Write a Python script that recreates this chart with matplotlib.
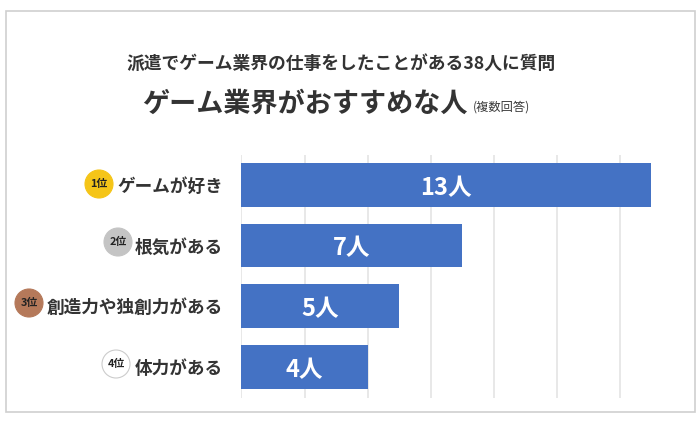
import matplotlib
matplotlib.use("Agg")
import matplotlib.pyplot as plt
from matplotlib.patches import Rectangle, Ellipse

plt.rcParams['font.family'] = ['Noto Sans CJK JP', 'DejaVu Sans']

categories = ["ゲームが好き", "根気がある", "創造力や独創力がある", "体力がある"]
values = [13, 7, 5, 4]
ranks = ["1位", "2位", "3位", "4位"]
rank_colors = ["#F5C518", "#C4C4C4", "#B5795A", "#FFFFFF"]
rank_edges = ["#F5C518", "#C4C4C4", "#B5795A", "#CCCCCC"]
rank_cx = [99, 118, 29, 116]
rank_cy = [184, 242, 303, 364]
rank_d = 28
W, H = 700, 421

fig = plt.figure(figsize=(W / 100, H / 100), dpi=100, facecolor="white")
bg = fig.add_axes([0, 0, 1, 1])
bg.set_xlim(0, W)
bg.set_ylim(H, 0)
bg.axis("off")
bg.add_patch(Rectangle((5.5, 11), 689.5, 401, fc="white", ec="#CFCFCF", lw=1.2))

bg.text(341, 63.5, "派遣でゲーム業界の仕事をしたことがある38人に質問", ha="center", va="center",
        fontsize=12.8, fontweight="bold", color="#333333")
bg.text(305, 103.5, "ゲーム業界がおすすめな人", ha="center", va="center",
        fontsize=19.5, fontweight="bold", color="#333333")
bg.text(502, 107.5, "(複数回答)", ha="center", va="center", fontsize=8.8, color="#3A3A3A")

left, right, top, bottom = 241.5, 667.0, 155, 398
ax = fig.add_axes([left / W, 1 - bottom / H, (right - left) / W, (bottom - top) / H])
ax.set_facecolor("none")
ypos = list(range(len(values)))
ax.barh(ypos, values, height=0.72, color="#4472C4", zorder=3)
ax.set_xlim(0, (right - left) / 31.5)
ax.set_ylim(3.51, -0.49)
ax.set_xticks(range(0, 14, 2))
ax.xaxis.grid(True, color="#E2E2E2", lw=1.1, zorder=0)
ax.tick_params(left=False, bottom=False, labelbottom=False)
ax.set_yticks(ypos)
ax.set_yticklabels(categories, fontsize=12.7, fontweight="bold", color="#333333")
ax.tick_params(axis="y", pad=10)
for s in ax.spines.values():
    s.set_visible(False)
for y, v in zip(ypos, values):
    ax.text(v / 2, y + 0.05, f"{v}人", ha="center", va="center", color="white",
            fontsize=17, fontweight="bold", zorder=4)

for cx, cy, c, e, t in zip(rank_cx, rank_cy, rank_colors, rank_edges, ranks):
    bg.add_patch(Ellipse((cx, cy), rank_d, rank_d, fc=c, ec=e, lw=0.8, zorder=5))
    bg.text(cx, cy, t, ha="center", va="center", fontsize=7.8, fontweight="bold",
            color="#222222", zorder=6)

fig.savefig("out.png", dpi=100)
